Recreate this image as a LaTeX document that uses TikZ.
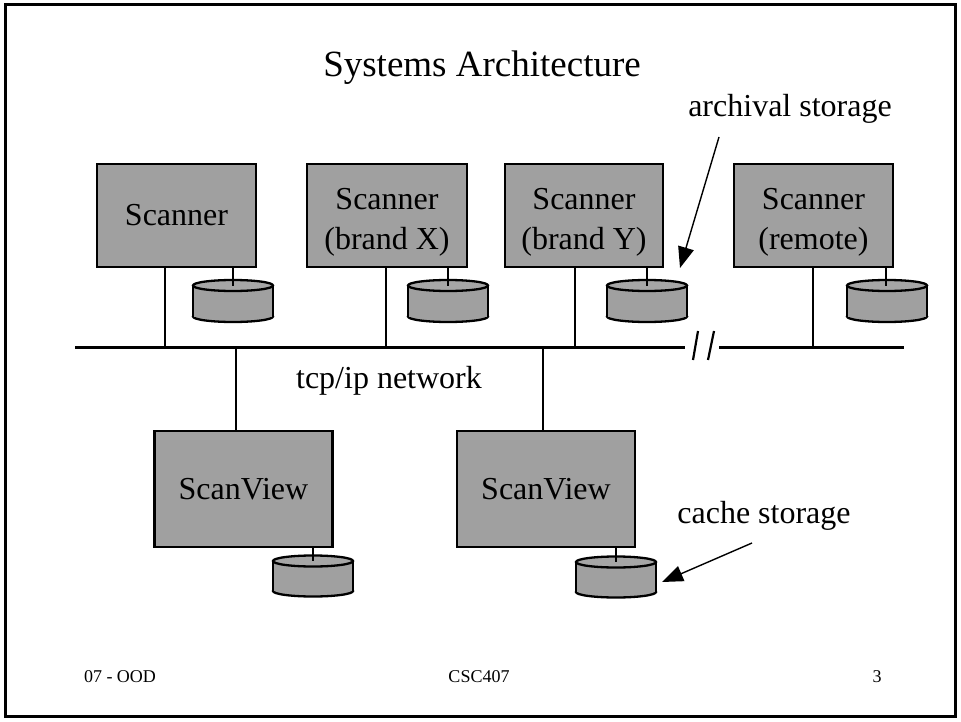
\documentclass[tikz,border=0pt]{standalone}
\usepackage{fontspec}
\setmainfont{Liberation Serif}
\usetikzlibrary{arrows.meta}
\definecolor{boxgray}{HTML}{A0A0A0}
\definecolor{topgray}{HTML}{A6A6A6}
\newcommand{\diskshape}[3]{%
  \filldraw[diskline, fill=boxgray] (#1,#3) ellipse[x radius=40pt, y radius=5.5pt];
  \fill[boxgray] (#1-40,#2) rectangle (#1+40,#3);
  \draw[diskline] (#1-40,#2) -- (#1-40,#3) (#1+40,#2) -- (#1+40,#3);
  \filldraw[diskline, fill=topgray] (#1,#2) ellipse[x radius=40pt, y radius=5.5pt];
}
\begin{document}
\begin{tikzpicture}[x=1pt,y=-1pt,
  box/.style={draw, line width=2.6pt, fill=boxgray, inner sep=0pt,
    font=\fontsize{32}{40}\selectfont, align=center},
  sbox/.style={box, minimum width=159pt, minimum height=103pt},
  twoline/.style={text height=74pt},
  vbox/.style={box, minimum width=178pt, minimum height=116pt},
  diskline/.style={line width=2.3pt},
  net/.style={line width=2.2pt},
  lbl/.style={font=\fontsize{32}{40}\selectfont, inner sep=0pt},
  foot/.style={font=\fontsize{18}{22}\selectfont, inner sep=0pt},
  ptr/.style={line width=1.4pt, -{Triangle[length=21pt,width=16pt]}},
]
\useasboundingbox (0,0) rectangle (961,722);
\draw[line width=3pt] (5,5) rectangle (955,716);

% title
\node[font=\fontsize{37}{44}\selectfont, inner sep=0pt, anchor=base] (title) at (482,77) {Systems Architecture};

% scanner boxes
\node[sbox] (s1) at (176.5,215.5) {Scanner};
\node[sbox, twoline, minimum width=160pt] (sx) at (387,215.5) {Scanner\\(brand X)};
\node[sbox, twoline, minimum width=158pt] (sy) at (584,215.5) {Scanner\\(brand Y)};
\node[sbox, twoline] (sr) at (813.5,215.5) {Scanner\\(remote)};

% scanview boxes
\node[vbox] (v1) at (243.5,489) {ScanView};
\node[vbox] (v2) at (546,489) {ScanView};

% disks
\diskshape{233}{285.5}{316.5}
\diskshape{448}{285.5}{316.5}
\diskshape{647}{285.5}{316.5}
\diskshape{887}{285.5}{316.5}
\diskshape{313}{561}{591}
\diskshape{616}{562}{592}
\coordinate (d1) at (233,285.5);
\coordinate (dx) at (448,285.5);
\coordinate (dy) at (647,285.5);
\coordinate (dr) at (886,285.5);
\coordinate (dv1) at (313,561);
\coordinate (dv2) at (616,562);
\draw[net] (s1.south -| d1) -- (d1);
\draw[net] (sx.south -| dx) -- (dx);
\draw[net] (sy.south -| dy) -- (dy);
\draw[net] (sr.south -| dr) -- (dr);
\draw[net] (v1.south -| dv1) -- (dv1);
\draw[net] (v2.south -| dv2) -- (dv2);

% network
\coordinate (nl) at (75,347.5);
\coordinate (nb1) at (685,347.5);
\coordinate (nb2) at (719,347.5);
\coordinate (nr) at (904,347.5);
\draw[net] (nl) -- (nb1);
\draw[net] (nb2) -- (nr);
\draw[net] (698,331) -- (693,360);
\draw[net] (714,331) -- (708,360);

\coordinate (t1) at (165,347.5);
\coordinate (tx) at (386,347.5);
\coordinate (ty) at (575,347.5);
\coordinate (tr) at (813,347.5);
\coordinate (tv1) at (236,347.5);
\coordinate (tv2) at (543,347.5);
\draw[net] (s1.south -| t1) -- (t1);
\draw[net] (sx.south -| tx) -- (tx);
\draw[net] (sy.south -| ty) -- (ty);
\draw[net] (sr.south -| tr) -- (tr);
\draw[net] (tv1) -- (tv1 |- v1.north);
\draw[net] (tv2) -- (tv2 |- v2.north);

\node[lbl, anchor=base] (tcp) at (389,388) {tcp/ip network};

% labels with arrows
\node[lbl, anchor=base] (arch) at (790,117) {archival storage};
\coordinate (a1s) at (719,137);
\coordinate (a1e) at (680,268);
\draw[ptr] (a1s) -- (a1e);

\node[lbl, anchor=base] (cache) at (764,523) {cache storage};
\coordinate (a2s) at (752,543);
\coordinate (a2e) at (662,582);
\draw[ptr] (a2s) -- (a2e);

% footer
\node[foot] (f1) at (120,677) {07 - OOD};
\node[foot] (f2) at (479,677) {CSC407};
\node[foot] (f3) at (877,677) {3};
\end{tikzpicture}
\end{document}
